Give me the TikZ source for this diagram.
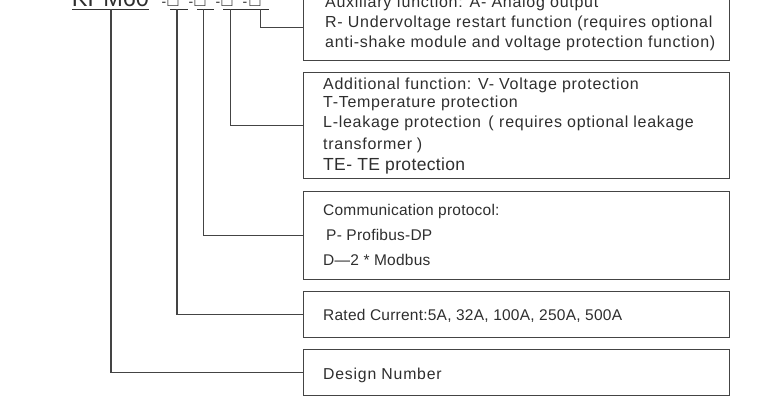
\documentclass[tikz,border=0pt]{standalone}
\usepackage{fontspec}
\setmainfont{Liberation Sans}
\definecolor{lc}{HTML}{444444}
\definecolor{tc}{HTML}{2E2E2E}
\begin{document}
\begin{tikzpicture}[x=1pt,y=-1pt,
  box/.style={draw=lc,line width=1.1pt,rectangle,inner sep=0pt,minimum width=426pt},
  wire/.style={draw=lc,line width=1.2pt},
  uline/.style={draw=black!80,line width=1.3pt},
  big/.style={inner sep=0pt,anchor=base,text=tc,font=\fontsize{23.5}{24}\selectfont},
  small/.style={inner sep=0pt,anchor=base,text=tc,font=\fontsize{14}{16}\selectfont},
  ph/.style={inner sep=0pt,anchor=base,text=tc,font=\fontsize{18}{18}\selectfont},
  ta/.style={inner sep=0pt,anchor=base west,text=tc,font=\fontsize{16}{18}\selectfont\addfontfeatures{LetterSpace=4.5}},
  tte/.style={inner sep=0pt,anchor=base west,text=tc,font=\fontsize{17.5}{19}\selectfont\addfontfeatures{LetterSpace=2}},
  tb/.style={inner sep=0pt,anchor=base west,text=tc,font=\fontsize{15.5}{17}\selectfont\addfontfeatures{LetterSpace=1.5}},
  tc/.style={inner sep=0pt,anchor=base west,text=tc,font=\fontsize{15.8}{17}\selectfont\addfontfeatures{LetterSpace=5}}]
\useasboundingbox (0,0) rectangle (777,396);
% boxes
\node[box,minimum height=66pt,anchor=north west] (aux) at (303,-6) {};
\node[box,minimum height=106pt,anchor=north west] (add) at (303,72) {};
\node[box,minimum height=88pt,anchor=north west] (com) at (303,191) {};
\node[box,minimum height=46pt,anchor=north west] (rat) at (303,291) {};
\node[box,minimum height=46pt,anchor=north west] (des) at (303,349) {};
% texts
\node[ta] (a1) at (325,8) {Auxiliary function: A- Analog output};
\node[ta] (a2) at (325,28) {R- Undervoltage restart function (requires optional};
\node[ta] (a3) at (325,48) {anti-shake module and voltage protection function)};
\node[ta] (b1) at (323,89) {Additional function: V- Voltage protection};
\node[ta] (b2) at (323,107) {T-Temperature protection};
\node[ta] (b3) at (323,128) {L-leakage protection\hspace{0.45em}(\hspace{0.35em}requires optional leakage};
\node[ta] (b4) at (323,149) {transformer\hspace{0.3em})};
\node[tte] (b5) at (323,170) {TE- TE protection};
\node[tb] (c1) at (323,215) {Communication protocol:};
\node[tb] (c2) at (326,240) {P- Profibus-DP};
\node[tb] (c3) at (323,265) {D—2 * Modbus};
\node[tb] (d1) at (323,320) {Rated Current:5A, 32A, 100A, 250A, 500A};
\node[tc] (e1) at (323,379) {Design Number};
% model code
\node[big] (kpm) at (110.5,6.5) {KPM60};
\node[small] (s1) at (164,7) {-};
\node[ph] (p1) at (173,6.5) {□};
\node[small] (s2) at (191,7) {-};
\node[ph] (p2) at (200,6.5) {□};
\node[small] (s3) at (218,7) {-};
\node[ph] (p3) at (227,6.5) {□};
\node[small] (s4) at (245,7) {-};
\node[ph] (p4) at (255,6.5) {□};
\draw[uline] (72,9.5) -- (149,9.5);
\draw[uline] (170,9.5) -- (188,9.5);
\draw[uline] (197,9.5) -- (214,9.5);
\draw[uline] (223,9.5) -- (269,9.5);
\coordinate (k0) at (111,9.5);
\coordinate (k1) at (177,9.5);
\coordinate (k2) at (203.5,9.5);
\coordinate (k3) at (230.5,9.5);
\coordinate (k4) at (260.5,9.5);
% connectors
\draw[wire] (k0) |- (des.west);
\draw[wire] (k1) |- (rat.west);
\draw[wire] (k2) |- (com.west);
\draw[wire] (k3) |- (add.west);
\draw[wire] (k4) |- (aux.west);
\end{tikzpicture}
\end{document}
